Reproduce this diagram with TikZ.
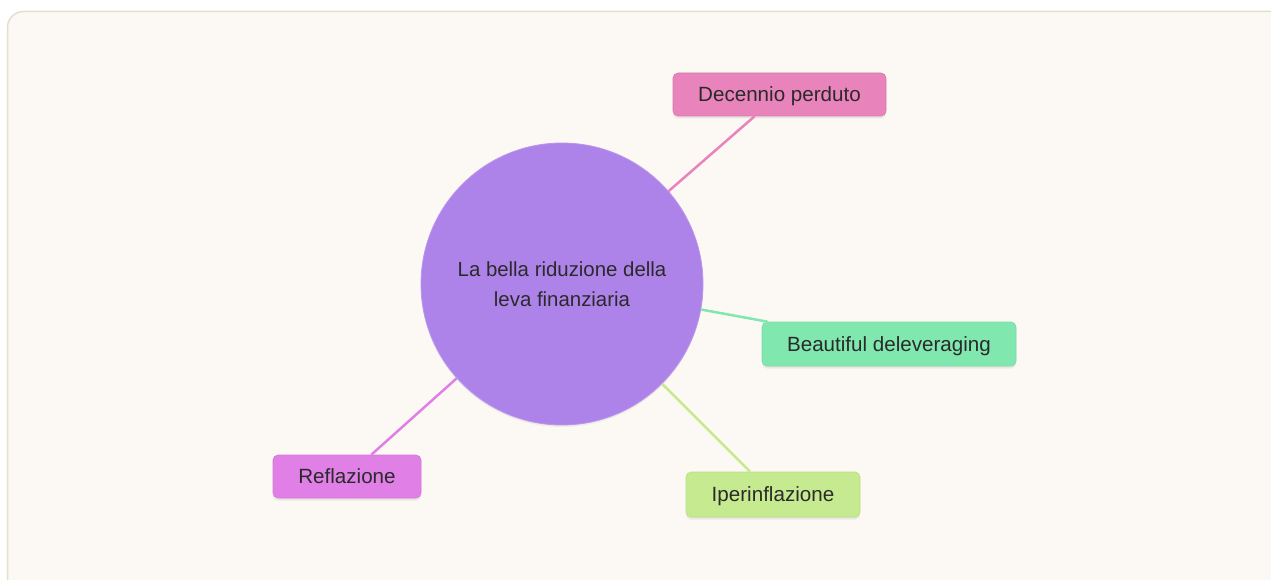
\documentclass[tikz,border=0pt]{standalone}
\usepackage{fontspec}
\setmainfont{Liberation Sans}
\usetikzlibrary{shadows}
\definecolor{bgfill}{HTML}{FCF9F4}
\definecolor{bgline}{HTML}{E6DECF}
\definecolor{hubfill}{HTML}{AE83E9}
\definecolor{pinkfill}{HTML}{E983BC}
\definecolor{greenfill}{HTML}{80E8AE}
\definecolor{limefill}{HTML}{C6EA90}
\definecolor{violetfill}{HTML}{E07FE5}
\definecolor{txt}{HTML}{2A2A2A}
\tikzset{
  leaf/.style={rectangle, rounded corners=5pt, inner sep=0pt, text=txt,
    font=\fontsize{20.6pt}{24pt}\selectfont, line width=0.6pt,
    text height=19pt, text depth=4.5pt,
    drop shadow={opacity=0.14, shadow xshift=0pt, shadow yshift=-2.5pt}},
  hub/.style={circle, minimum size=282pt, inner sep=0pt, fill=hubfill, text=txt,
    draw=hubfill!85!white, line width=0.8pt,
    font=\fontsize{20.4pt}{30pt}\selectfont, align=center,
    drop shadow={opacity=0.10, shadow xshift=0pt, shadow yshift=-2pt}},
  link/.style={line width=2.5pt}
}
\begin{document}
\begin{tikzpicture}[x=1pt,y=-1pt]
\useasboundingbox (0,0) rectangle (1271,580);
\begin{scope}
\clip (0,0) rectangle (1271,580);
\fill[white] (0,0) rectangle (1271,580);
\draw[fill=bgfill, draw=bgline, line width=1.5pt, rounded corners=16pt] (7.5,11.5) rectangle (1300,610);
\end{scope}
\node[hub] (hub) at (562,284) {La bella riduzione della\\leva finanziaria};
\node[leaf, fill=pinkfill, draw=pinkfill!92!black, minimum width=213pt, minimum height=43pt] (dec) at (779.5,94.5) {Decennio perduto};
\node[leaf, fill=greenfill, draw=greenfill!94!black, minimum width=254pt, minimum height=44pt] (beau) at (889,344) {Beautiful deleveraging};
\node[leaf, fill=limefill, draw=limefill!94!black, minimum width=174pt, minimum height=45pt] (iper) at (773,494.5) {Iperinflazione};
\node[leaf, fill=violetfill, draw=violetfill!94!black, minimum width=148pt, minimum height=43pt] (refl) at (347,476.5) {Reflazione};
\draw[link, draw=pinkfill] (hub) -- (dec);
\draw[link, draw=greenfill] (hub) -- (beau);
\draw[link, draw=limefill] (hub) -- (iper);
\draw[link, draw=violetfill] (hub) -- (refl);
\end{tikzpicture}
\end{document}
